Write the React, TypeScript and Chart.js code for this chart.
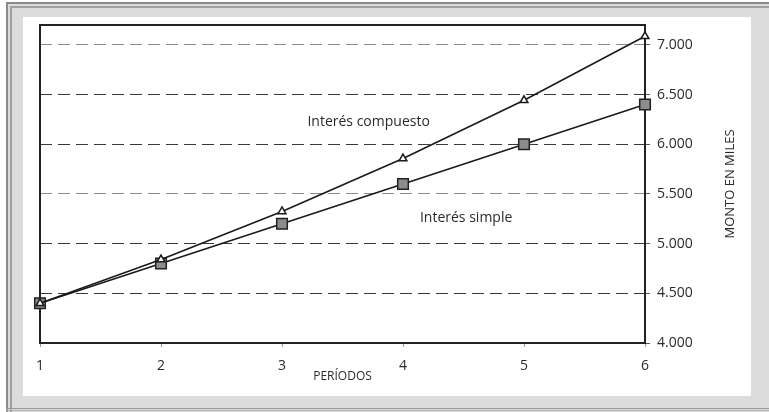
import React, { useEffect, useRef } from 'react';
import { Chart, registerables } from 'chart.js';

Chart.register(...registerables);

const periods = ['1', '2', '3', '4', '5', '6'];
const interesCompuesto = [4400, 4840, 5324, 5856, 6442, 7086];
const interesSimple = [4400, 4800, 5200, 5600, 6000, 6400];
const yTicks = [4000, 4500, 5000, 5500, 6000, 6500, 7000];
const yMin = 4000;
const yMax = 7200;
const xTitle = 'PERÍODOS';
const yTitle = 'MONTO EN MILES';
const labelCompuesto = 'Interés compuesto';
const labelSimple = 'Interés simple';
const labelCompuestoPos = { x: 3.21, y: 6225 };
const labelSimplePos = { x: 4.14, y: 5260 };
const lightGridValues = [7000, 5500];

const FONT = '"Open Sans", "Noto Sans", sans-serif';

const fmt = (v: number) => {
  const th = Math.floor(v / 1000);
  const rest = String(Math.round(v % 1000)).padStart(3, '0');
  return th + '.' + rest;
};

const framePlugin = {
  id: 'frame',
  beforeDraw(chart: any) {
    const ctx = chart.ctx;
    ctx.save();
    ctx.fillStyle = '#ffffff';
    ctx.fillRect(0, 0, chart.width, chart.height);
    ctx.fillStyle = '#dcdcdc';
    ctx.fillRect(6, 2, chart.width - 6, chart.height - 2);
    ctx.fillStyle = '#8a8a8a';
    ctx.fillRect(6, 2, 2, chart.height - 2);
    ctx.fillRect(6, 2, chart.width - 6, 2);
    ctx.fillStyle = '#a0a0a0';
    ctx.fillRect(10, 6, 2, chart.height - 6);
    ctx.fillRect(10, 6, chart.width - 10, 2);
    ctx.fillStyle = '#9a9a9a';
    ctx.fillRect(6, 408, chart.width - 6, 1);
    ctx.fillStyle = '#b0b0b0';
    ctx.fillRect(6, 410, chart.width - 6, 1);
    ctx.fillStyle = '#ffffff';
    ctx.fillRect(23, 17, 728, 379);
    ctx.restore();
  },
  beforeDatasetsDraw(chart: any) {
    const { ctx, chartArea } = chart;
    ctx.save();
    ctx.strokeStyle = '#222222';
    ctx.lineWidth = 2;
    ctx.strokeRect(chartArea.left, chartArea.top, chartArea.right - chartArea.left, chartArea.bottom - chartArea.top);
    ctx.restore();
  },
  afterDraw(chart: any) {
    const { ctx, chartArea, scales } = chart;
    const xs = scales.x;
    const ys = scales.y;
    ctx.save();
    ctx.fillStyle = '#2a2a2a';
    ctx.font = '14px ' + FONT;
    ctx.textBaseline = 'middle';
    ctx.textAlign = 'left';
    const px = (v: number) => xs.left + ((v - 1) / (periods.length - 1)) * (xs.right - xs.left);
    ctx.fillText(labelCompuesto, px(labelCompuestoPos.x), ys.getPixelForValue(labelCompuestoPos.y));
    ctx.fillText(labelSimple, px(labelSimplePos.x), ys.getPixelForValue(labelSimplePos.y));
    ctx.font = '12px ' + FONT;
    ctx.textAlign = 'center';
    ctx.fillText(xTitle, (chartArea.left + chartArea.right) / 2, 377);
    ctx.translate(730, (chartArea.top + chartArea.bottom) / 2);
    ctx.rotate(-Math.PI / 2);
    ctx.font = '13px ' + FONT;
    ctx.fillText(yTitle, 0, 0);
    ctx.restore();
  },
};

export default function App() {
  const ref = useRef<HTMLCanvasElement>(null);
  useEffect(() => {
    if (!ref.current) return;
    const chart = new Chart(ref.current, {
      type: 'line',
      data: {
        labels: periods,
        datasets: [
          {
            label: labelCompuesto,
            data: interesCompuesto,
            borderColor: '#1a1a1a',
            borderWidth: 1.6,
            pointStyle: 'triangle',
            pointRadius: 4.5,
            pointBackgroundColor: '#ffffff',
            pointBorderColor: '#1a1a1a',
            pointBorderWidth: 1.5,
            tension: 0,
          },
          {
            label: labelSimple,
            data: interesSimple,
            borderColor: '#1a1a1a',
            borderWidth: 1.6,
            pointStyle: 'rect',
            pointRadius: 7.5,
            pointBackgroundColor: '#8c8c8c',
            pointBorderColor: '#222222',
            pointBorderWidth: 1.5,
            tension: 0,
          },
        ],
      },
      options: {
        responsive: false,
        animation: false,
        devicePixelRatio: 1,
        layout: { padding: { left: 40, top: 25, right: 0, bottom: 0 } },
        plugins: {
          legend: { display: false },
          tooltip: { enabled: false },
          title: { display: false },
        },
        scales: {
          x: {
            type: 'category',
            offset: false,
            afterFit: (s: any) => {
              s.height = 69;
            },
            grid: {
              drawOnChartArea: false,
              drawTicks: true,
              tickLength: 4,
              color: '#999999',
            },
            border: { display: false },
            ticks: {
              padding: 11,
              color: '#2a2a2a',
              font: { family: FONT, size: 14 },
              maxRotation: 0,
              autoSkip: false,
            },
          },
          y: {
            position: 'right',
            min: yMin,
            max: yMax,
            afterBuildTicks: (s: any) => {
              s.ticks = yTicks.map((v) => ({ value: v }));
            },
            afterFit: (s: any) => {
              s.width = 124;
            },
            grid: {
              color: (c: any) =>
                c.tick && c.tick.value === yMin
                  ? 'rgba(0,0,0,0)'
                  : lightGridValues.includes(c.tick && c.tick.value)
                  ? '#8a8a8a'
                  : '#3a3a3a',
              lineWidth: 1,
              drawTicks: true,
              tickLength: 5,
              tickColor: '#555555',
            },
            border: { display: false, dash: [12, 6] },
            ticks: {
              padding: 7,
              color: '#2a2a2a',
              font: { family: FONT, size: 14 },
              callback: (v: any) => fmt(Number(v)),
            },
          },
        },
      },
      plugins: [framePlugin],
    });
    return () => chart.destroy();
  }, []);
  return (
    <div style={{ position: 'absolute', left: 0, top: 0, width: 769, height: 412 }}>
      <canvas ref={ref} width={769} height={412} style={{ display: 'block', width: 769, height: 412 }} />
    </div>
  );
}
